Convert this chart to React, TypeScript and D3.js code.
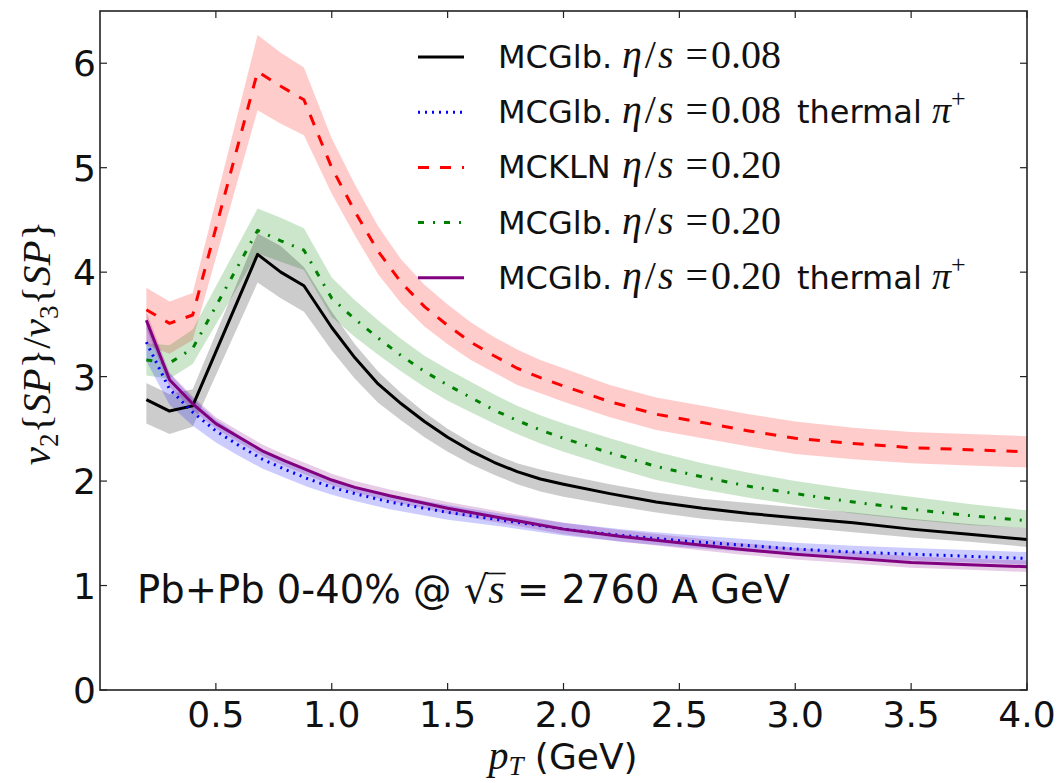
import React, { useLayoutEffect, useRef, useState } from "react";
import * as d3 from "d3";

// ---------- data ----------
const hydroX = [0.2, 0.3, 0.4, 0.68, 0.78, 0.88, 1.0, 1.1, 1.2, 1.3, 1.4, 1.5, 1.6, 1.7, 1.8, 1.9, 2.0, 2.2, 2.4, 2.6, 2.8, 3.0, 3.25, 3.5, 3.75, 4.0];
const glb008 = [2.78, 2.67, 2.72, 4.17, 4.0, 3.87, 3.47, 3.18, 2.93, 2.74, 2.57, 2.42, 2.29, 2.18, 2.09, 2.02, 1.97, 1.88, 1.8, 1.74, 1.69, 1.65, 1.6, 1.54, 1.49, 1.44];
const glb008Lo = [2.55, 2.45, 2.52, 3.9, 3.75, 3.62, 3.25, 2.98, 2.75, 2.58, 2.42, 2.28, 2.16, 2.06, 1.97, 1.9, 1.85, 1.77, 1.7, 1.64, 1.6, 1.56, 1.51, 1.46, 1.42, 1.37];
const glb008Hi = [2.94, 2.83, 2.88, 4.37, 4.25, 4.05, 3.62, 3.31, 3.05, 2.84, 2.66, 2.5, 2.37, 2.26, 2.17, 2.11, 2.06, 1.97, 1.89, 1.83, 1.79, 1.75, 1.7, 1.64, 1.59, 1.55];

const kln020 = [3.64, 3.51, 3.59, 5.92, 5.78, 5.65, 5.0, 4.58, 4.2, 3.9, 3.67, 3.49, 3.33, 3.2, 3.08, 2.99, 2.91, 2.76, 2.64, 2.56, 2.48, 2.41, 2.36, 2.32, 2.3, 2.28];
const kln020Lo = [3.3, 3.22, 3.35, 5.55, 5.42, 5.31, 4.75, 4.35, 3.98, 3.7, 3.48, 3.31, 3.16, 3.04, 2.92, 2.84, 2.76, 2.61, 2.49, 2.41, 2.33, 2.26, 2.21, 2.17, 2.15, 2.13];
const kln020Hi = [3.85, 3.72, 3.8, 6.27, 6.1, 5.96, 5.28, 4.84, 4.44, 4.12, 3.88, 3.69, 3.52, 3.38, 3.26, 3.16, 3.08, 2.92, 2.8, 2.72, 2.64, 2.57, 2.51, 2.47, 2.45, 2.43];

const glb020 = [3.16, 3.13, 3.27, 4.4, 4.3, 4.21, 3.75, 3.55, 3.37, 3.2, 3.05, 2.92, 2.8, 2.68, 2.58, 2.49, 2.41, 2.27, 2.14, 2.04, 1.95, 1.88, 1.8, 1.73, 1.67, 1.62];
const glb020Lo = [3.01, 2.98, 3.12, 4.18, 4.1, 4.02, 3.57, 3.38, 3.21, 3.05, 2.9, 2.77, 2.66, 2.55, 2.45, 2.36, 2.28, 2.14, 2.01, 1.92, 1.84, 1.77, 1.69, 1.63, 1.58, 1.55];
const glb020Hi = [3.32, 3.3, 3.45, 4.61, 4.52, 4.42, 3.95, 3.73, 3.54, 3.36, 3.2, 3.07, 2.95, 2.83, 2.72, 2.63, 2.55, 2.41, 2.28, 2.17, 2.08, 2.0, 1.92, 1.85, 1.78, 1.72];

const thermalX = [0.2, 0.3, 0.4, 0.5, 0.6, 0.7, 0.8, 0.9, 1.0, 1.1, 1.25, 1.5, 1.75, 2.0, 2.25, 2.5, 2.75, 3.0, 3.25, 3.5, 3.75, 4.0];
const th008 = [3.33, 2.88, 2.66, 2.48, 2.34, 2.21, 2.11, 2.02, 1.94, 1.88, 1.8, 1.7, 1.62, 1.54, 1.48, 1.43, 1.39, 1.35, 1.32, 1.3, 1.28, 1.26];
const th008Lo = [3.15, 2.73, 2.53, 2.37, 2.24, 2.12, 2.03, 1.94, 1.87, 1.81, 1.73, 1.63, 1.56, 1.48, 1.42, 1.37, 1.33, 1.29, 1.26, 1.24, 1.22, 1.2];
const th008Hi = [3.5, 3.03, 2.79, 2.59, 2.44, 2.3, 2.19, 2.1, 2.01, 1.95, 1.87, 1.77, 1.68, 1.6, 1.54, 1.49, 1.45, 1.41, 1.38, 1.36, 1.34, 1.32];

const th020 = [3.54, 2.97, 2.74, 2.55, 2.42, 2.29, 2.19, 2.1, 2.01, 1.94, 1.86, 1.74, 1.64, 1.54, 1.47, 1.41, 1.35, 1.3, 1.26, 1.22, 1.2, 1.18];
const th020Lo = [3.46, 2.9, 2.68, 2.5, 2.37, 2.24, 2.14, 2.05, 1.96, 1.89, 1.81, 1.69, 1.59, 1.49, 1.42, 1.36, 1.3, 1.25, 1.21, 1.17, 1.15, 1.13];
const th020Hi = [3.62, 3.04, 2.81, 2.61, 2.48, 2.35, 2.25, 2.16, 2.07, 2.0, 1.92, 1.8, 1.7, 1.6, 1.53, 1.47, 1.41, 1.36, 1.32, 1.28, 1.26, 1.24];

const xTicks = [0.5, 1.0, 1.5, 2.0, 2.5, 3.0, 3.5, 4.0];
const yTicks = [0, 1, 2, 3, 4, 5, 6];

// ---------- layout ----------
const W = 1060, H = 783;
const L = 100, R = 1027, T = 11, B = 690;
const SANS = "DejaVu Sans";
const SERIF = "Liberation Serif";

const x = d3.scaleLinear().domain([0, 4]).range([L, R]);
const y = d3.scaleLinear().domain([0, 6.5]).range([B, T]);

type Series = {
  xs: number[]; v: number[]; lo: number[]; hi: number[];
  color: string; dash: string; width: number;
};

const series: Series[] = [
  { xs: hydroX, v: kln020, lo: kln020Lo, hi: kln020Hi, color: "#ff0000", dash: "11,11", width: 3 },
  { xs: hydroX, v: glb020, lo: glb020Lo, hi: glb020Hi, color: "#008000", dash: "6,9,2,9", width: 3 },
  { xs: hydroX, v: glb008, lo: glb008Lo, hi: glb008Hi, color: "#000000", dash: "", width: 3 },
  { xs: thermalX, v: th008, lo: th008Lo, hi: th008Hi, color: "#0000ff", dash: "2,5", width: 3 },
  { xs: thermalX, v: th020, lo: th020Lo, hi: th020Hi, color: "#800080", dash: "", width: 3 },
];

const lineGen = (xs: number[], v: number[]) =>
  d3.line<number>().x((_, i) => x(xs[i])).y((d) => y(d))(v) || "";
const areaGen = (xs: number[], lo: number[], hi: number[]) =>
  d3.area<number>().x((_, i) => x(xs[i])).y0((_, i) => y(lo[i])).y1((d) => y(d))(hi) || "";

const legendRows = [
  { name: "MCGlb.", val: "0.08", thermal: false, s: 2 },
  { name: "MCGlb.", val: "0.08", thermal: true, s: 3 },
  { name: "MCKLN", val: "0.20", thermal: false, s: 0 },
  { name: "MCGlb.", val: "0.20", thermal: false, s: 1 },
  { name: "MCGlb.", val: "0.20", thermal: true, s: 4 },
];

const ANN_Y = 603;

export default function App() {
  const legY0 = 57, legDy = 55.2;
  const sqrtRef = useRef<SVGTSpanElement>(null);
  const sRef = useRef<SVGTSpanElement>(null);
  const [bar, setBar] = useState<{ x1: number; x2: number } | null>(null);

  useLayoutEffect(() => {
    if (sqrtRef.current && sRef.current) {
      const a = sqrtRef.current.getBBox();
      const b = sRef.current.getBBox();
      setBar({ x1: a.x + a.width - 2, x2: b.x + b.width + 1 });
    }
  }, []);

  return (
    <svg width={W} height={H} style={{ position: "absolute", left: 0, top: 0, background: "#fff" }}>
      <defs>
        <clipPath id="plot">
          <rect x={L} y={T} width={R - L} height={B - T} />
        </clipPath>
      </defs>
      <g clipPath="url(#plot)">
        {series.map((s, i) => (
          <path key={"a" + i} d={areaGen(s.xs, s.lo, s.hi)} fill={s.color} fillOpacity={0.2} stroke="none" />
        ))}
        {series.map((s, i) => (
          <path key={"l" + i} d={lineGen(s.xs, s.v)} fill="none" stroke={s.color}
            strokeWidth={s.width} strokeDasharray={s.dash || undefined} strokeLinejoin="round" />
        ))}
      </g>

      {/* frame */}
      <rect x={L} y={T} width={R - L} height={B - T} fill="none" stroke="#222" strokeWidth={1.6} />
      {xTicks.map((t) => (
        <g key={"xt" + t}>
          <line x1={x(t)} x2={x(t)} y1={B} y2={B - 7} stroke="#222" strokeWidth={1.2} />
          <line x1={x(t)} x2={x(t)} y1={T} y2={T + 7} stroke="#222" strokeWidth={1.2} />
          <text x={x(t)} y={B + 37} textAnchor="middle" fontFamily={SANS} fontSize={36} fill="#111">{t.toFixed(1)}</text>
        </g>
      ))}
      {yTicks.map((t) => (
        <g key={"yt" + t}>
          <line x1={L} x2={L + 7} y1={y(t)} y2={y(t)} stroke="#222" strokeWidth={1.2} />
          <line x1={R} x2={R - 7} y1={y(t)} y2={y(t)} stroke="#222" strokeWidth={1.2} />
          <text x={L - 4} y={y(t) + 13} textAnchor="end" fontFamily={SANS} fontSize={36} fill="#111">{t}</text>
        </g>
      ))}

      {/* x label */}
      <text x={563} y={769} textAnchor="middle" fontSize={36} fill="#111">
        <tspan fontFamily={SERIF} fontStyle="italic" fontSize={40}>p</tspan>
        <tspan fontFamily={SERIF} fontStyle="italic" fontSize={27} dy="6">T</tspan>
        <tspan fontFamily={SANS} dy="-6"> (GeV)</tspan>
      </text>

      {/* y label */}
      <g transform="translate(50,343) rotate(-90)">
        <text textAnchor="middle" fontFamily={SERIF} fontSize={41} fill="#111">
          <tspan fontStyle="italic">v</tspan>
          <tspan fontSize={27} dy="8">2</tspan>
          <tspan dy="-8">{"{"}</tspan>
          <tspan fontStyle="italic">SP</tspan>
          <tspan>{"}/"}</tspan>
          <tspan fontStyle="italic">v</tspan>
          <tspan fontSize={27} dy="8">3</tspan>
          <tspan dy="-8">{"{"}</tspan>
          <tspan fontStyle="italic">SP</tspan>
          <tspan>{"}"}</tspan>
        </text>
      </g>

      {/* annotation */}
      <text x={137} y={ANN_Y} fontFamily={SANS} fontSize={38.5} fill="#111">
        <tspan>Pb+Pb 0-40% @ </tspan>
        <tspan ref={sqrtRef}>√</tspan>
        <tspan ref={sRef} fontFamily={SERIF} fontStyle="italic" fontSize={42}>s</tspan>
        <tspan> = 2760 A GeV</tspan>
      </text>
      {bar ? (
        <line x1={bar.x1} x2={bar.x2} y1={ANN_Y - 29.5} y2={ANN_Y - 29.5} stroke="#111" strokeWidth={1.6} />
      ) : null}

      {/* legend */}
      {legendRows.map((r, i) => {
        const s = series[r.s];
        const yy = legY0 + i * legDy;
        return (
          <g key={"lg" + i}>
            <line x1={418} x2={464} y1={yy} y2={yy} stroke={s.color} strokeWidth={s.width}
              strokeDasharray={s.dash || undefined} />
            <text x={498} y={yy + 11} fontFamily={SANS} fontSize={32} fill="#111">{r.name}</text>
            <text x={622} y={yy + 11} fontFamily={SERIF} fontSize={40} fill="#111">
              <tspan fontStyle="italic">η</tspan>
              <tspan dx="3">/</tspan>
              <tspan dx="2" fontStyle="italic">s</tspan>
              <tspan dx="12">=</tspan>
              <tspan dx="3">{r.val}</tspan>
            </text>
            {r.thermal ? (
              <text x={797} y={yy + 11} fontFamily={SANS} fontSize={32} fill="#111">
                <tspan>thermal </tspan>
                <tspan fontFamily={SERIF} fontStyle="italic" fontSize={38}>π</tspan>
                <tspan fontFamily={SERIF} fontSize={26} dy="-16">+</tspan>
              </text>
            ) : null}
          </g>
        );
      })}
    </svg>
  );
}
